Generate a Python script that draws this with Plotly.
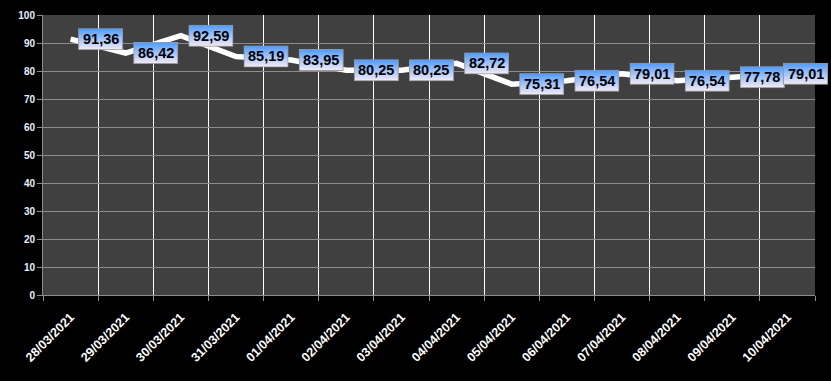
import base64
import plotly.graph_objects as go

dates = ["28/03/2021", "29/03/2021", "30/03/2021", "31/03/2021", "01/04/2021",
         "02/04/2021", "03/04/2021", "04/04/2021", "05/04/2021", "06/04/2021",
         "07/04/2021", "08/04/2021", "09/04/2021", "10/04/2021"]
values = [91.36, 86.42, 92.59, 85.19, 83.95, 80.25, 80.25, 82.72, 75.31, 76.54,
          79.01, 76.54, 77.78, 79.01]
y_ticks = [0, 10, 20, 30, 40, 50, 60, 70, 80, 90, 100]

W, H = 831, 381
L, R, T, B = 43, 16, 15, 86
plot_w = W - L - R
n = len(values)
idx = list(range(n))

svg = ("<svg xmlns='http://www.w3.org/2000/svg' width='46' height='23' "
       "preserveAspectRatio='none' viewBox='0 0 46 23'><defs>"
       "<linearGradient id='g' x1='0' y1='0' x2='0' y2='1'>"
       "<stop offset='0' stop-color='#4d9bff'/><stop offset='1' stop-color='#f3ebf7'/>"
       "</linearGradient></defs>"
       "<rect x='0.5' y='0.5' width='45' height='22' fill='url(#g)' stroke='#9a9a9a' stroke-width='1'/></svg>")
src = "data:image/svg+xml;base64," + base64.b64encode(svg.encode()).decode()

fig = go.Figure()
fig.add_trace(go.Scatter(x=idx, y=values, mode="lines",
                         line=dict(color="white", width=5.5, shape="linear"),
                         hoverinfo="skip", showlegend=False))

box_w_px, box_h_px = 45, 22
offset_cat = 0.545
max_center = (W - 3 - box_w_px / 2 - L) / plot_w
images, annots = [], []
for i, v in enumerate(values):
    fx = min((i + offset_cat + 0.5) / n, max_center)
    fy = v / 100.0
    images.append(dict(source=src, xref="paper", yref="paper", x=fx, y=fy,
                       xanchor="center", yanchor="middle",
                       sizex=box_w_px / plot_w, sizey=box_h_px / (H - T - B),
                       sizing="stretch", layer="above"))
    annots.append(dict(xref="paper", yref="paper", x=fx, y=fy,
                       text=("%.2f" % v).replace(".", ","), showarrow=False,
                       xanchor="center", yanchor="middle",
                       font=dict(family="Liberation Sans, Arial", size=14.5,
                                 color="black", weight="bold")))

fig.update_layout(
    width=W, height=H,
    margin=dict(l=L, r=R, t=T, b=B, autoexpand=False),
    paper_bgcolor="black", plot_bgcolor="#404040",
    images=images, annotations=annots,
    xaxis=dict(range=[-0.5, n - 0.5], tickvals=idx, ticktext=dates,
               tickangle=-45, ticks="", showgrid=False, zeroline=False,
               automargin=False, ticklabelstandoff=9,
               showline=True, linecolor="#8c8c8c", linewidth=1,
               tickfont=dict(family="Liberation Sans, Arial", size=12.5,
                             color="white", weight="bold"),
               minor=dict(tickvals=[i - 0.5 for i in range(n + 1)], ticks="outside",
                          ticklen=5, tickcolor="#8c8c8c", showgrid=True,
                          gridcolor="white", gridwidth=1)),
    yaxis=dict(range=[0, 100], tickvals=y_ticks, ticks="outside", ticklen=5,
               tickcolor="#8c8c8c", showgrid=True, gridcolor="#8c8c8c",
               gridwidth=1, zeroline=False, showline=True, automargin=False,
               linecolor="#8c8c8c", linewidth=1,
               tickfont=dict(family="Liberation Sans, Arial", size=10,
                             color="#e6f0ff", weight="bold")),
)

fig.write_html("out.html")
